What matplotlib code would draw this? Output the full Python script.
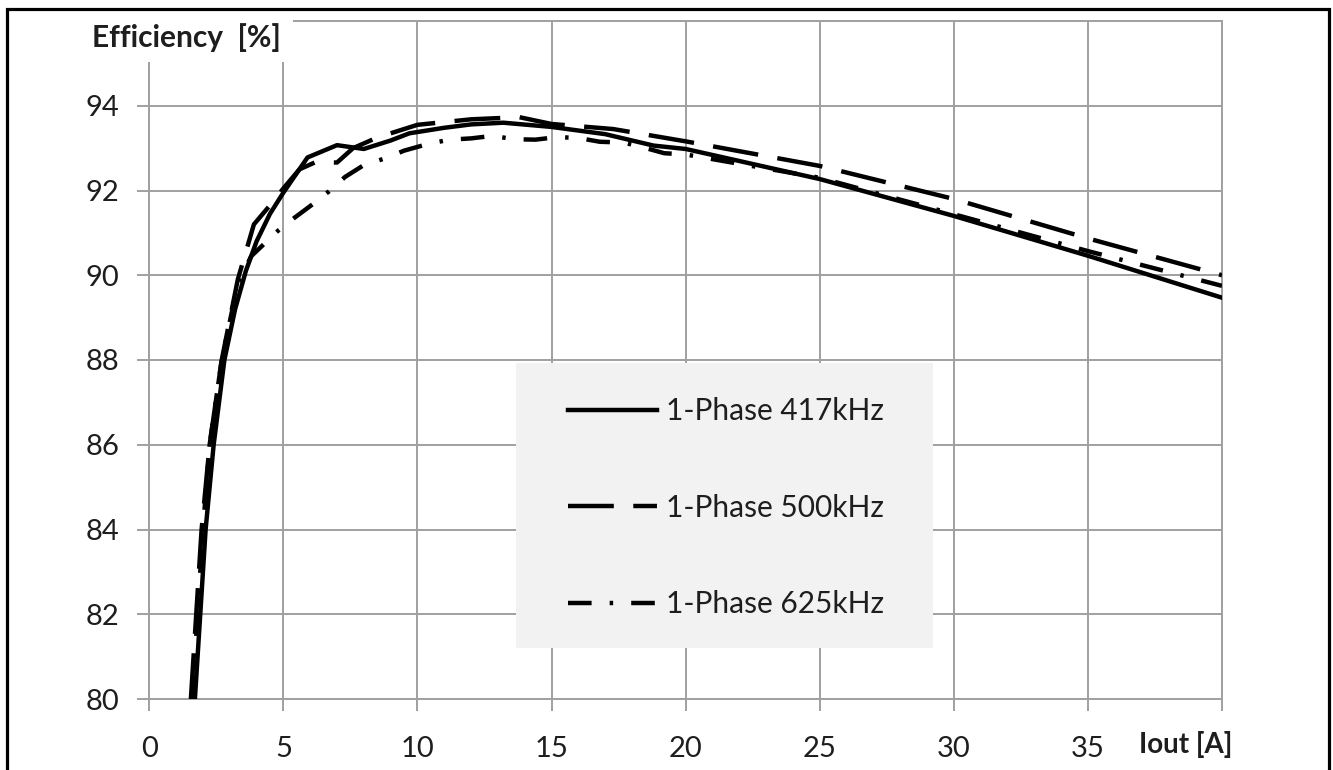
import matplotlib
matplotlib.use("Agg")
import matplotlib.pyplot as plt
from matplotlib.patches import Rectangle

# Data
x_417 = [1.7, 1.9, 2.1, 2.4, 2.8, 3.2, 3.6, 4.0, 4.5, 5.0, 5.9, 7.0, 8.0, 9.0, 9.7,
         11.0, 12.0, 13.2, 15.0, 17.0, 18.8, 20.0, 25.0, 30.0, 35.0, 40.0]
eff_417 = [80.0, 82.0, 84.0, 86.0, 88.0, 89.2, 90.1, 90.8, 91.45, 91.95, 92.78, 93.07, 92.98,
           93.18, 93.35, 93.48, 93.56, 93.6, 93.5, 93.33, 93.06, 92.98, 92.27, 91.4, 90.46, 89.47]

x_500 = [1.55, 1.75, 1.95, 2.25, 2.7, 3.3, 3.9, 4.5, 5.0, 5.6, 6.2, 7.0, 7.6, 8.5, 10.0,
         12.0, 13.8, 15.0, 17.3, 20.0, 25.0, 30.0, 35.0, 40.0]
eff_500 = [80.0, 82.0, 84.0, 86.0, 88.0, 89.9, 91.2, 91.65, 92.05, 92.5, 92.67, 92.66, 93.0,
           93.25, 93.55, 93.68, 93.73, 93.57, 93.45, 93.16, 92.58, 91.8, 90.87, 90.0]

x_625 = [1.6, 1.8, 2.0, 2.25, 2.7, 3.3, 3.8, 4.3, 4.8, 5.4, 6.1, 6.7, 7.3, 8.0, 8.8, 9.5,
         10.4, 11.2, 12.0, 12.8, 13.6, 14.4, 15.2, 16.0, 16.8, 17.7, 18.4, 19.2, 20.0,
         25.0, 30.0, 35.0, 40.0]
eff_625 = [80.0, 82.0, 84.0, 86.0, 88.0, 89.8, 90.45, 90.75, 91.05, 91.35, 91.68, 91.98,
           92.32, 92.6, 92.76, 92.94, 93.1, 93.2, 93.23, 93.29, 93.21, 93.2, 93.26, 93.24,
           93.15, 93.13, 93.02, 92.88, 92.85, 92.3, 91.44, 90.57, 89.75]

labels = ["1-Phase 417kHz", "1-Phase 500kHz", "1-Phase 625kHz"]
x_ticks = [0, 5, 10, 15, 20, 25, 30, 35, 40]
x_ticklabels = ["0", "5", "10", "15", "20", "25", "30", "35", ""]
y_ticks = [80, 82, 84, 86, 88, 90, 92, 94, 96]
y_ticklabels = ["80", "82", "84", "86", "88", "90", "92", "94", ""]

plt.rcParams["font.family"] = ["Lato", "DejaVu Sans"]
plt.rcParams["lines.scale_dashes"] = False

grid_col = "#a0a0a0"
txt_col = "#1e1e1e"

fig = plt.figure(figsize=(13.33, 7.70), dpi=100)
ax = fig.add_axes([149.3 / 1333, 1 - 699 / 770, (1222 - 149.3) / 1333, (699 - 21) / 770])

ax.plot(x_417, eff_417, color="black", lw=3.2, solid_joinstyle="round", zorder=4, label=labels[0])
ax.plot(x_500, eff_500, color="black", lw=3.2, dashes=(33, 14), zorder=4, label=labels[1])
ax.plot(x_625, eff_625, color="black", lw=3.2, dashes=(17, 13, 2.5, 13), zorder=4, label=labels[2])

ax.set_xlim(0, 40)
ax.set_ylim(80, 96)
ax.set_xticks(x_ticks)
ax.set_xticklabels(x_ticklabels)
ax.set_yticks(y_ticks)
ax.set_yticklabels(y_ticklabels)
ax.grid(True, color=grid_col, lw=1.4)
ax.set_axisbelow(True)
for s in ax.spines.values():
    s.set_color(grid_col)
    s.set_linewidth(1.4)
ax.tick_params(axis="both", length=8.5, width=1.4, color=grid_col, labelsize=21,
               labelcolor=txt_col)
ax.tick_params(axis="x", pad=18)
ax.tick_params(axis="y", pad=13)

# legend background
ax.add_patch(Rectangle((0.342, 0.0752), 0.3888, 0.4204, transform=ax.transAxes,
                       facecolor="#f2f2f2", edgecolor="none", zorder=2))
leg = ax.legend(loc="center", bbox_to_anchor=(0.5378, 0.282), frameon=False, fontsize=21.5,
                handlelength=3.0, handletextpad=0.3, labelspacing=2.3, borderpad=0)
for t in leg.get_texts():
    t.set_color(txt_col)
leg.set_zorder(5)

# axis titles (Excel style, boxed over the plot corners)
fig.add_artist(Rectangle((86 / 1333, 1 - 62 / 770), (293 - 86) / 1333, 52 / 770,
                         transform=fig.transFigure, facecolor="white", edgecolor="none", zorder=3))
fig.text(92 / 1333, 1 - 38 / 770, "Efficiency  [%]", fontsize=21.5, fontweight="bold",
         color=txt_col, ha="left", va="center", zorder=4)
fig.text(1232 / 1333, 1 - 744 / 770, "Iout [A]", fontsize=20, fontweight="bold",
         color=txt_col, ha="right", va="center", zorder=4)

# outer frame
fig.add_artist(Rectangle((7 / 1333, -0.1), (1329 - 7) / 1333, 1.1 - 9 / 770,
                         transform=fig.transFigure, fill=False, edgecolor="black", lw=2.3,
                         zorder=6, clip_on=False))

fig.savefig("out.png", dpi=100)
